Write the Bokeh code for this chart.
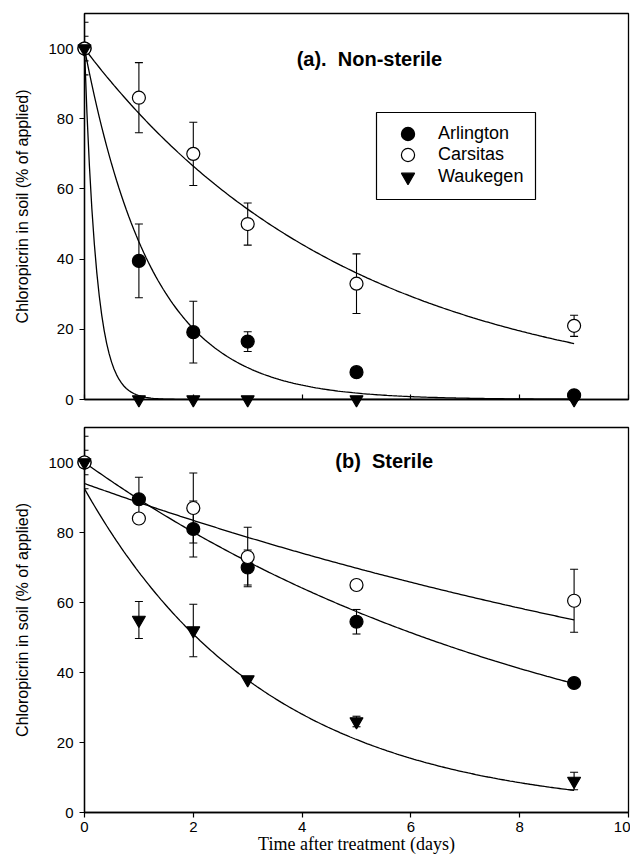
import numpy as np
from bokeh.plotting import figure
from bokeh.layouts import column
from bokeh.models import (Range1d, FixedTicker, Whisker, TeeHead, ColumnDataSource,
                          Legend, LegendItem, Label, CustomLabelingPolicy, BoxAnnotation)
from bokeh.embed import file_html
from bokeh.resources import INLINE

# ---------------- data ----------------
days = [0, 1, 2, 3, 5, 9]

# (a) Non-sterile
arl_a = [100, 39.5, 19.2, 16.5, 7.8, 1.2]
arl_a_err = [3.5, 10.5, 8.8, 2.8, 0, 0]
car_a = [100, 86, 70, 50, 33, 21]
car_a_err = [7.5, 10, 9, 6, 8.5, 3]
wau_a = [100, 0, 0, 0, 0, 0]
wau_a_err = [0, 0, 0, 0, 0, 0]

# (b) Sterile
arl_b = [100, 89.5, 81, 70, 54.5, 37]
arl_b_err = [3.5, 6.3, 8, 5, 3.5, 0]
car_b = [100, 84, 87, 73, 65, 60.5]
car_b_err = [7.5, 0, 10, 8.5, 0, 9]
wau_b = [100, 55, 52, 38, 26, 9]
wau_b_err = [0, 5.3, 7.5, 0, 1.5, 2.5]

# first-order fit parameters (C0, k)
fit_a = {"Arlington": (100, 0.80), "Carsitas": (100, 0.204), "Waukegen": (100, 4.5)}
fit_b = {"Arlington": (100, 0.111), "Carsitas": (94, 0.0595), "Waukegen": (92.5, 0.298)}
fit_end = 9

series_names = ["Arlington", "Carsitas", "Waukegen"]
x_ticks = [0, 2, 4, 6, 8, 10]
y_ticks = [0, 20, 40, 60, 80, 100]

SANS = "Liberation Sans"
SERIF = "Liberation Serif"


def make_fig(height, btop, bbottom):
    p = figure(width=630, height=height, x_range=Range1d(0, 10), y_range=Range1d(0, 110),
               output_backend="svg", toolbar_location=None,
               min_border_left=84, min_border_right=2,
               min_border_top=btop, min_border_bottom=bbottom)
    p.grid.visible = False
    p.outline_line_color = "black"
    p.outline_line_width = 1.3
    p.outline_line_alpha = 1.0
    p.background_fill_color = "white"
    p.border_fill_color = "white"
    for ax in (p.xaxis[0], p.yaxis[0]):
        ax.axis_line_width = 1.3
        ax.axis_line_color = "black"
        ax.major_tick_line_color = "black"
        ax.major_tick_line_width = 1.2
        ax.minor_tick_line_color = None
        ax.major_label_text_font = SANS
        ax.major_label_text_font_size = "15px"
        ax.major_label_text_color = "black"
    p.xaxis.ticker = FixedTicker(ticks=x_ticks)
    p.yaxis.ticker = FixedTicker(ticks=y_ticks)
    p.yaxis.major_tick_out = 5
    p.yaxis.major_tick_in = 0
    p.yaxis.major_label_standoff = 6
    p.yaxis.axis_label = "Chloropicrin in soil (% of applied)"
    p.yaxis.axis_label_text_font = SANS
    p.yaxis.axis_label_text_font_size = "16px"
    p.yaxis.axis_label_text_font_style = "normal"
    p.yaxis.axis_label_text_color = "black"
    p.yaxis.axis_label_standoff = 14
    return p


def add_series(p, y, err, fits):
    t = np.linspace(0, fit_end, 200)
    for name in ["Carsitas", "Arlington", "Waukegen"]:
        c0, k = fits[name]
        p.line(t, c0 * np.exp(-k * t), line_color="black", line_width=1.3)
    rends = {}
    specs = [("Arlington", "circle", "black"), ("Carsitas", "circle", "white"),
             ("Waukegen", "inverted_triangle", "black")]
    for name, marker, fill in specs:
        ys, es = y[name], err[name]
        bx = [d for d, e in zip(days, es) if e > 0]
        up = [v + e for v, e in zip(ys, es) if e > 0]
        lo = [v - e for v, e in zip(ys, es) if e > 0]
        if bx:
            src = ColumnDataSource(dict(base=bx, upper=up, lower=lo))
            w = Whisker(source=src, base="base", upper="upper", lower="lower",
                        line_color="black", line_width=1.1, level="annotation",
                        upper_head=TeeHead(size=8, line_width=1.1, line_color="black"),
                        lower_head=TeeHead(size=8, line_width=1.1, line_color="black"))
            p.add_layout(w)
        r = p.scatter(days, ys, marker=marker, size=13, fill_color=fill,
                      line_color="black", line_width=1.2, level="overlay")
        rends[name] = r
    return rends


# ---------------- panel (a) ----------------
p1 = make_fig(408, 13, 9)
p1.xaxis.major_tick_in = 5
p1.xaxis.major_tick_out = 0
p1.xaxis.major_label_standoff = 0
p1.xaxis.major_label_text_font_size = "1px"
p1.xaxis.major_label_policy = CustomLabelingPolicy(
    code="for (const i of indices) { indices.unset(i) }\nreturn indices")
r1 = add_series(p1, {"Arlington": arl_a, "Carsitas": car_a, "Waukegen": wau_a},
                {"Arlington": arl_a_err, "Carsitas": car_a_err, "Waukegen": wau_a_err}, fit_a)
p1.add_layout(Label(x=3.9, y=96.9, text="(a).\u00a0\u00a0Non-sterile", text_font=SANS,
                    text_font_size="20px", text_font_style="bold", text_baseline="middle",
                    text_color="black"))

# legend frame (screen units relative to the plot frame)
p1.add_layout(BoxAnnotation(left=292, right=451, bottom=200, top=287,
                            left_units="screen", right_units="screen",
                            bottom_units="screen", top_units="screen",
                            fill_color="white", fill_alpha=1.0,
                            line_color="black", line_width=1.2, line_alpha=1.0,
                            level="annotation"))
# one legend row per series, stacked at a 21.5 px pitch
row_bottoms = [249.5, 228, 206.5]
for name, yb in zip(series_names, row_bottoms):
    lg = Legend(items=[LegendItem(label=name, renderers=[r1[name]])],
                location=(307, yb), padding=0, spacing=0, margin=0,
                glyph_width=33, glyph_height=33, label_height=21, label_standoff=14,
                label_text_font=SANS, label_text_font_size="18px", label_text_color="black",
                border_line_color=None, background_fill_alpha=0.0)
    p1.add_layout(lg)

# ---------------- panel (b) ----------------
p2 = make_fig(450, 19, 46)
p2.xaxis.major_tick_out = 5
p2.xaxis.major_tick_in = 0
p2.xaxis.major_label_standoff = 4
p2.xaxis.axis_label = "Time after treatment (days)"
p2.xaxis.axis_label_text_font = SERIF
p2.xaxis.axis_label_text_font_size = "18px"
p2.xaxis.axis_label_text_font_style = "normal"
p2.xaxis.axis_label_text_color = "black"
p2.xaxis.axis_label_standoff = -1
add_series(p2, {"Arlington": arl_b, "Carsitas": car_b, "Waukegen": wau_b},
           {"Arlington": arl_b_err, "Carsitas": car_b_err, "Waukegen": wau_b_err}, fit_b)
p2.add_layout(Label(x=4.61, y=100.3, text="(b)\u00a0\u00a0Sterile", text_font=SANS,
                    text_font_size="20px", text_font_style="bold", text_baseline="middle",
                    text_color="black"))

layout = column(p1, p2, spacing=0)
open("out.html", "w").write(file_html(layout, INLINE))
